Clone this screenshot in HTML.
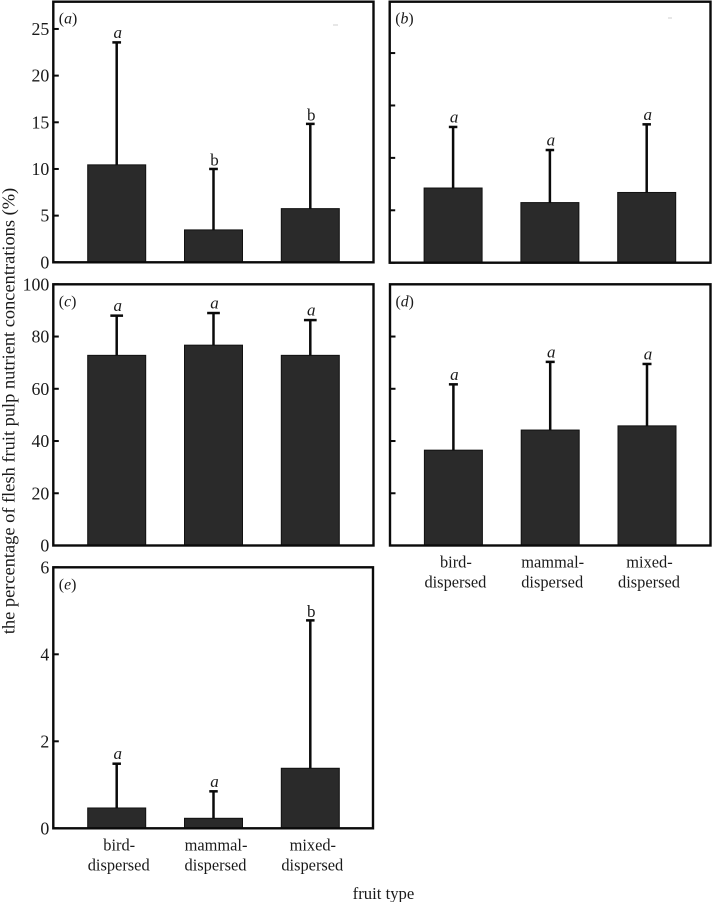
<!DOCTYPE html>
<html lang="en">
<head>
<meta charset="utf-8">
<title>Flesh fruit pulp nutrient concentrations by fruit type</title>
<style>
html,body{margin:0;padding:0;background:#fff;}
svg{display:block;filter:blur(0.3px);}
text{font-family:"Liberation Serif",serif;fill:#1a1a1a;}
</style>
</head>
<body>
<svg id="chart" width="712" height="902" viewBox="0 0 712 902" xmlns="http://www.w3.org/2000/svg">
<rect width="712" height="902" fill="#ffffff"/>
<text transform="translate(14.5 411) rotate(-90)" text-anchor="middle" font-size="18.4">the percentage of flesh fruit pulp nutrient concentrations (%)</text>
<text x="383.5" y="899" text-anchor="middle" font-size="16.7">fruit type</text>
<rect x="333" y="24.5" width="5" height="1" fill="#cfcfcf"/>
<rect x="668" y="17.5" width="4" height="1" fill="#cfcfcf"/>
</svg>
<script>
const categories = ['bird', 'mammal', 'mixed'];

const meansA = [10.44, 3.47, 5.75];
const upperA = [23.56, 10.0, 14.83];
const lettersA = ['a', 'b', 'b'];
const ticksA = [0, 5, 10, 15, 20, 25];
const tickLabelsA = ['0', '5', '10', '15', '20', '25'];

const meansB = [14.25, 11.47, 13.4];
const upperB = [25.9, 21.5, 26.4];
const lettersB = ['a', 'a', 'a'];
const ticksB = [0, 10, 20, 30, 40];
const tickLabelsB = ['', '', '', '', ''];

const meansC = [72.8, 76.7, 72.8];
const upperC = [88, 89, 86.3];
const lettersC = ['a', 'a', 'a'];
const ticksC = [0, 20, 40, 60, 80, 100];
const tickLabelsC = ['0', '20', '40', '60', '80', '100'];

const meansD = [36.5, 44.2, 45.8];
const upperD = [61.7, 70.3, 69.5];
const lettersD = ['a', 'a', 'a'];
const ticksD = [0, 20, 40, 60, 80];
const tickLabelsD = ['', '', '', '', ''];

const meansE = [0.467, 0.23, 1.38];
const upperE = [1.485, 0.85, 4.78];
const lettersE = ['a', 'a', 'b'];
const ticksE = [0, 2, 4, 6];
const tickLabelsE = ['0', '2', '4', '6'];

const categoryLine1 = ['bird-', 'mammal-', 'mixed-'];
const categoryLine2 = ['dispersed', 'dispersed', 'dispersed'];

const svg = document.getElementById('chart');
const NS = 'http://www.w3.org/2000/svg';

function make(tag, attrs, text) {
  const el = document.createElementNS(NS, tag);
  for (const k in attrs) el.setAttribute(k, attrs[k]);
  if (text !== undefined) el.textContent = text;
  return el;
}

function drawPanel(p) {
  const g = make('g', {});
  
  
  svg.appendChild(g);

  const yScale = v => p.bottom - (v / p.max) * (p.bottom - p.top);
  const xScale = i => p.left + 63.4 + 96.8 * i;

  p.means.forEach((m, i) => {
    const cx = xScale(i);
    const top = yScale(m);
    const up = yScale(p.upper[i]);

    const bar = make('rect', { x: cx - 29, y: top, width: 58, height: p.bottom - top, fill: '#2a2a2a', stroke: '#111', 'stroke-width': 1 });
    
    
    g.appendChild(bar);

    const stem = make('line', { x1: cx, x2: cx, y1: top, y2: up, stroke: '#0a0a0a', 'stroke-width': 2.5 });
    
    
    g.appendChild(stem);

    const cap = make('line', { x1: cx - p.cap / 2, x2: cx + p.cap / 2, y1: up, y2: up, stroke: '#0a0a0a', 'stroke-width': 2.5 });
    
    
    g.appendChild(cap);

    const isB = p.letters[i] === 'b';
    const letter = make('text', { x: cx + 1, y: up - (isB ? 3.5 : 4.5), 'text-anchor': 'middle', 'font-size': 17, 'font-style': isB ? 'normal' : 'italic' }, p.letters[i]);
    
    
    g.appendChild(letter);

    if (p.showCategories) {
      const l1 = make('text', { x: cx + 2.5, y: p.bottom + 22, 'text-anchor': 'middle', 'font-size': 16.4 }, categoryLine1[i]);
      
      
      g.appendChild(l1);
      const l2 = make('text', { x: cx + 2, y: p.bottom + 42, 'text-anchor': 'middle', 'font-size': 16.4 }, categoryLine2[i]);
      
      
      g.appendChild(l2);
    }
  });

  p.ticks.forEach((t, i) => {
    const y = yScale(t);
    const tick = make('line', { x1: p.left, x2: p.left + 5.5, y1: y, y2: y, stroke: '#0a0a0a', 'stroke-width': 2 });
    
    
    g.appendChild(tick);
    if (p.tickLabels[i]) {
      const label = make('text', { x: p.left - 4, y: y + 6, 'text-anchor': 'end', 'font-size': 17.8 }, p.tickLabels[i]);
      
      
      g.appendChild(label);
    }
  });

  const frame = make('rect', { x: p.left, y: p.top, width: p.right - p.left, height: p.bottom - p.top, fill: 'none', stroke: '#0a0a0a', 'stroke-width': 2.4 });
  
  
  g.appendChild(frame);

  const tag = make('text', { x: p.left + 5.5, y: p.top + 22, 'font-size': 15.8 });
  
  
  tag.appendChild(make('tspan', {}, '('));
  tag.appendChild(make('tspan', { 'font-style': 'italic' }, p.id));
  tag.appendChild(make('tspan', {}, ')'));
  g.appendChild(tag);
}

drawPanel({ id: 'a', left: 53.3, right: 373.5, top: 1.7, bottom: 262.3, max: 27.92, cap: 8.7, means: meansA, upper: upperA, letters: lettersA, ticks: ticksA, tickLabels: tickLabelsA, showCategories: false });
drawPanel({ id: 'b', left: 389.7, right: 710.5, top: 1.7, bottom: 262.7, max: 49.8, cap: 8.5, means: meansB, upper: upperB, letters: lettersB, ticks: ticksB, tickLabels: tickLabelsB, showCategories: false });
drawPanel({ id: 'c', left: 53.3, right: 373.5, top: 284.3, bottom: 545.5, max: 100, cap: 12.7, means: meansC, upper: upperC, letters: lettersC, ticks: ticksC, tickLabels: tickLabelsC, showCategories: false });
drawPanel({ id: 'd', left: 390, right: 710.5, top: 284.3, bottom: 545.5, max: 100, cap: 9, means: meansD, upper: upperD, letters: lettersD, ticks: ticksD, tickLabels: tickLabelsD, showCategories: true });
drawPanel({ id: 'e', left: 53.3, right: 373, top: 567.3, bottom: 828.3, max: 6, cap: 8.5, means: meansE, upper: upperE, letters: lettersE, ticks: ticksE, tickLabels: tickLabelsE, showCategories: true });
</script>
</body>
</html>
